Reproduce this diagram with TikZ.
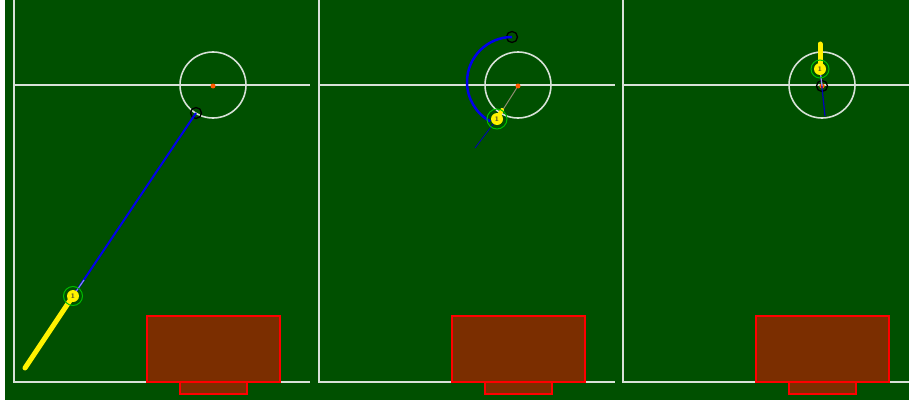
\documentclass[tikz,border=0pt]{standalone}
\definecolor{pitch}{RGB}{0,80,0}
\definecolor{chalk}{RGB}{215,225,215}
\definecolor{boxfill}{RGB}{123,46,0}
\definecolor{spotred}{RGB}{255,90,0}
\definecolor{ringgreen}{RGB}{0,190,0}
\definecolor{planblue}{RGB}{0,0,235}
\definecolor{heading}{RGB}{150,150,235}
\tikzset{
  chalkline/.style={draw=chalk,line width=1.6pt},
  penalty/.style={draw=red,fill=boxfill,line width=1.5pt},
  centrespot/.style={circle,fill=spotred,inner sep=0pt,minimum size=5pt},
  robot/.style={circle,fill=yellow,inner sep=0pt,minimum size=12pt,
    font=\fontsize{7}{7}\selectfont\bfseries,text=black!80},
  ring/.style={draw=ringgreen,line width=1pt},
  target/.style={circle,draw=black,line width=1.3pt,inner sep=0pt,minimum size=11pt},
  trail/.style={draw=yellow,line width=5pt,line cap=round},
  plan/.style={draw=planblue,line width=2pt},
}
\begin{document}
\begin{tikzpicture}[x=1pt,y=1pt]
\useasboundingbox (0,0) rectangle (909,400);
\fill[white] (0,0) rectangle (909,400);
\fill[pitch] (5,0) rectangle (909,400);
\begin{scope}
\clip (5,0) rectangle (909,400);
% three copies of the field
\foreach \o/\n in {0/1,305/2,609/3}
{
    \draw[chalkline] (14+\o,400) -- (14+\o,18) -- (310+\o,18);
    \draw[chalkline] (14+\o,315) -- (310+\o,315);
    \draw[chalkline] (213+\o,315) circle (33);
    \draw[penalty] (180+\o,6) rectangle (247+\o,18);
    \draw[penalty] (147+\o,18) rectangle (280+\o,84);
    \node[centrespot] (s\n) at (213+\o,314) {};
}
\end{scope}
% first panel
\coordinate (t1) at (25,32);
\node[target] (g1) at (196,287) {};
\draw[trail] (t1) -- (73,104);
\draw[plan] (73,104) -- (g1.center);
\draw[heading,line width=1pt] (73,104) -- (84,120);
\node[robot] (r1) at (73,104) {1};
\draw[ring] (r1.center) circle (9.5);
% second panel
\node[target] (g2) at (512,363) {};
\draw[plan,line width=2.5pt] (g2.center) arc[start angle=90,end angle=241,radius=45];
\coordinate (h2) at (475,252);
\draw[gray!80!olive,line width=1pt] (497,281) -- (s2);
\draw[planblue!80!black,line width=0.8pt] (497,281) -- (h2);
\draw[trail,line width=4pt] (497,281) -- (502,290);
\node[robot] (r2) at (497,281) {1};
\draw[ring] (r2.center) circle (10);
% third panel
\node[target] (g3) at (822,314) {};
\node[centrespot] at (822,314) {};
\coordinate (t3) at (820,356);
\coordinate (h3) at (825,284);
\draw[trail] (t3) -- (820,331);
\draw[planblue!80!black,line width=1.2pt] (820,331) -- (h3);
\draw[heading,line width=1.2pt] (820,331) -- (g3.center);
\node[robot] (r3) at (820,331) {1};
\draw[ring] (r3.center) circle (9);
\end{tikzpicture}
\end{document}
